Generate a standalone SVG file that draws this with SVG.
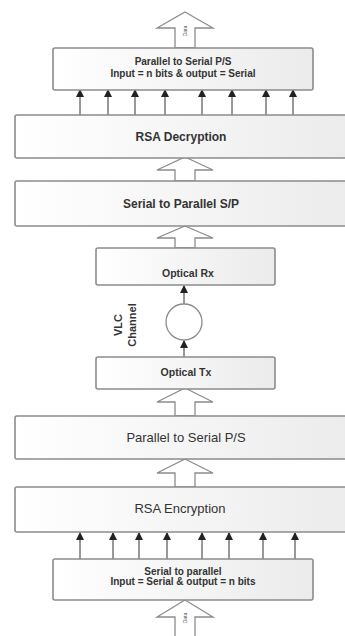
<svg xmlns="http://www.w3.org/2000/svg" width="345" height="636" viewBox="0 0 345 636">
<defs>
<linearGradient id="g" x1="0" y1="0" x2="1" y2="0">
<stop offset="0" stop-color="#ffffff"/>
<stop offset="1" stop-color="#ebebeb"/>
</linearGradient>
<marker id="ah" viewBox="0 0 8 10" refX="7" refY="5" markerWidth="9" markerHeight="10" markerUnits="userSpaceOnUse" orient="auto">
<path d="M0,1 L8,5 L0,9 Z" fill="#222"/>
</marker>
</defs>
<style>
.box{fill:url(#g);stroke:#8c8c8c;stroke-width:1.6}
.t{font-family:"Liberation Sans",Arial,sans-serif;fill:#333;text-anchor:middle}
.b{font-weight:bold}
.ba{fill:#fff;stroke:#8c8c8c;stroke-width:1.3}
.sa{stroke:#333;stroke-width:1;fill:none;marker-end:url(#ah)}
.d{font-family:"Liberation Sans",Arial,sans-serif;font-size:5px;fill:#555;text-anchor:middle}
</style>
<rect width="345" height="636" fill="#fff"/>
<g id="connectors">
<g>
<path class="ba" d="M185,12 L213,28 L195,28 L195,48 L175,48 L175,28 L157,28 Z"/>
<text class="d" transform="translate(187,31) rotate(-90)">Data</text>
</g>
<path class="ba" d="M185,157 L213,170 L195,170 L195,181 L175,181 L175,170 L157,170 Z"/>
<path class="ba" d="M185,226 L213,238 L195,238 L195,248 L175,248 L175,238 L157,238 Z"/>
<path class="ba" d="M185,388 L213,402 L195,402 L195,416 L175,416 L175,402 L157,402 Z"/>
<path class="ba" d="M185,459 L213,473 L195,473 L195,487 L175,487 L175,473 L157,473 Z"/>
<g>
<path class="ba" d="M185,600 L213,617 L195,617 L195,640 L175,640 L175,617 L157,617 Z"/>
<text class="d" transform="translate(187,618) rotate(-90)">Data</text>
</g>
<line class="sa" x1="80" y1="115" x2="80" y2="90"/>
<line class="sa" x1="108" y1="115" x2="108" y2="90"/>
<line class="sa" x1="135" y1="115" x2="135" y2="90"/>
<line class="sa" x1="165" y1="115" x2="165" y2="90"/>
<line class="sa" x1="202" y1="115" x2="202" y2="90"/>
<line class="sa" x1="232" y1="115" x2="232" y2="90"/>
<line class="sa" x1="266" y1="115" x2="266" y2="90"/>
<line class="sa" x1="293" y1="115" x2="293" y2="90"/>
<line class="sa" x1="184" y1="304" x2="184" y2="286"/>
<line class="sa" x1="184" y1="357" x2="184" y2="341"/>
<line class="sa" x1="80" y1="559" x2="80" y2="533"/>
<line class="sa" x1="113" y1="559" x2="113" y2="533"/>
<line class="sa" x1="139" y1="559" x2="139" y2="533"/>
<line class="sa" x1="167" y1="559" x2="167" y2="533"/>
<line class="sa" x1="202" y1="559" x2="202" y2="533"/>
<line class="sa" x1="229" y1="559" x2="229" y2="533"/>
<line class="sa" x1="263" y1="559" x2="263" y2="533"/>
<line class="sa" x1="295" y1="559" x2="295" y2="533"/>
</g>
<g id="ps-top">
<rect class="box" x="53" y="48" width="260" height="42" rx="2"/>
<text class="t b" x="183" y="65" font-size="10">Parallel to Serial P/S</text>
<text class="t b" x="183" y="76.5" font-size="10">Input = n bits &amp; output = Serial</text>
</g>
<g id="rsa-dec">
<rect class="box" x="15" y="115" width="345" height="43" rx="2"/>
<text class="t b" x="181" y="141" font-size="12">RSA Decryption</text>
</g>
<g id="sp">
<rect class="box" x="15" y="181" width="345" height="45" rx="2"/>
<text class="t b" x="181" y="208" font-size="12">Serial to Parallel S/P</text>
</g>
<g id="optical-rx">
<rect class="box" x="96" y="248" width="179" height="37" rx="2"/>
<text class="t b" x="188" y="277" font-size="10.5">Optical Rx</text>
</g>
<g id="vlc-channel">
<circle cx="184" cy="322" r="18" fill="#fff" stroke="#8c8c8c" stroke-width="1.3"/>
<text class="t b" font-size="11" transform="translate(122,325) rotate(-90)">VLC</text>
<text class="t b" font-size="11" transform="translate(136,325) rotate(-90)">Channel</text>
</g>
<g id="optical-tx">
<rect class="box" x="96" y="357" width="179" height="32" rx="2"/>
<text class="t b" x="186" y="376" font-size="10.5">Optical Tx</text>
</g>
<g id="ps">
<rect class="box" x="15" y="416" width="345" height="43" rx="2"/>
<text class="t" x="186" y="442" font-size="13">Parallel to Serial P/S</text>
</g>
<g id="rsa-enc">
<rect class="box" x="15" y="487" width="345" height="45" rx="2"/>
<text class="t" x="180" y="513" font-size="13">RSA Encryption</text>
</g>
<g id="sp-bottom">
<rect class="box" x="53" y="559" width="260" height="41" rx="2"/>
<text class="t b" x="183" y="574.5" font-size="10">Serial to parallel</text>
<text class="t b" x="183" y="585" font-size="10">Input = Serial &amp; output = n bits</text>
</g>
</svg>
